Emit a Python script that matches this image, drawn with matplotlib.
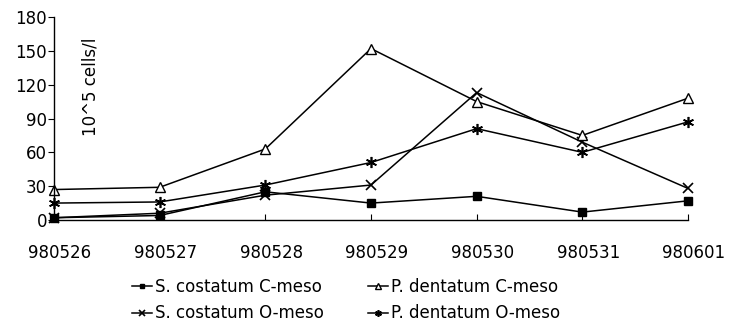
import numpy as np
import matplotlib
matplotlib.use("Agg")
import matplotlib.pyplot as plt
from matplotlib import transforms

F = 12

dates = ["980526", "980527", "980528", "980529", "980530", "980531", "980601"]
yticks = [0, 30, 60, 90, 120, 150, 180]

# 10^5 cells/l
sc_c = [2, 4, 25, 15, 21, 7, 17]        # S. costatum C-meso
sc_o = [2, 6, 22, 31, 113, 69, 28]      # S. costatum O-meso
pd_c = [27, 29, 63, 152, 105, 75, 108]  # P. dentatum C-meso
pd_o = [15, 16, 31, 51, 81, 60, 87]     # P. dentatum O-meso

fig = plt.figure(figsize=(7.33, 3.22), dpi=100)
ax = fig.add_axes([54/733, 1-220/322, (688-54)/733, (220-17)/322])

x = np.arange(len(dates))
ax.plot(x, sc_c, 'k-', marker='s', ms=5.5, lw=1.1, clip_on=False, label="S. costatum C-meso")
ax.plot(x, sc_o, 'k-', marker='x', ms=7, mew=1.2, lw=1.1, clip_on=False, label="S. costatum O-meso")
ax.plot(x, pd_c, 'k-', marker='^', ms=6.5, mfc='white', mew=1.0, lw=1.1, clip_on=False, label="P. dentatum C-meso")
ax.plot(x, pd_o, 'k-', marker=(6, 2, 0), ms=8, mew=1.2, lw=1.1, clip_on=False, label="P. dentatum O-meso")

ax.set_xlim(0, 6)
ax.set_ylim(0, 180)
ax.set_xticks(x)
ax.set_xticklabels(dates, fontsize=F)
ax.set_yticks(yticks)
ax.set_yticklabels([str(v) for v in yticks], fontsize=F)
ax.tick_params(axis='x', direction='in', length=4, pad=17)
ax.tick_params(axis='y', direction='out', length=4, pad=1)
ax.spines['top'].set_visible(False)
ax.spines['right'].set_visible(False)
for sp in ['left', 'bottom']:
	ax.spines[sp].set_linewidth(1.0)

# labels sit a bit right of their ticks in the original
shift = transforms.ScaledTranslation(6/100, 0, fig.dpi_scale_trans)
for lab in ax.get_xticklabels():
	lab.set_transform(lab.get_transform() + shift)

ax.text(0.057, 0.655, "10^5 cells/l", rotation=90, fontsize=F,
	transform=ax.transAxes, ha='center', va='center')

fig.legend(loc='upper left', bbox_to_anchor=(132/733, 1-278/322), ncol=2,
	frameon=False, fontsize=F, borderpad=0, borderaxespad=0,
	handlelength=1.2, handletextpad=0.2, columnspacing=2.6,
	labelspacing=0.5, markerscale=0.6)

plt.savefig("out.png", dpi=100)
